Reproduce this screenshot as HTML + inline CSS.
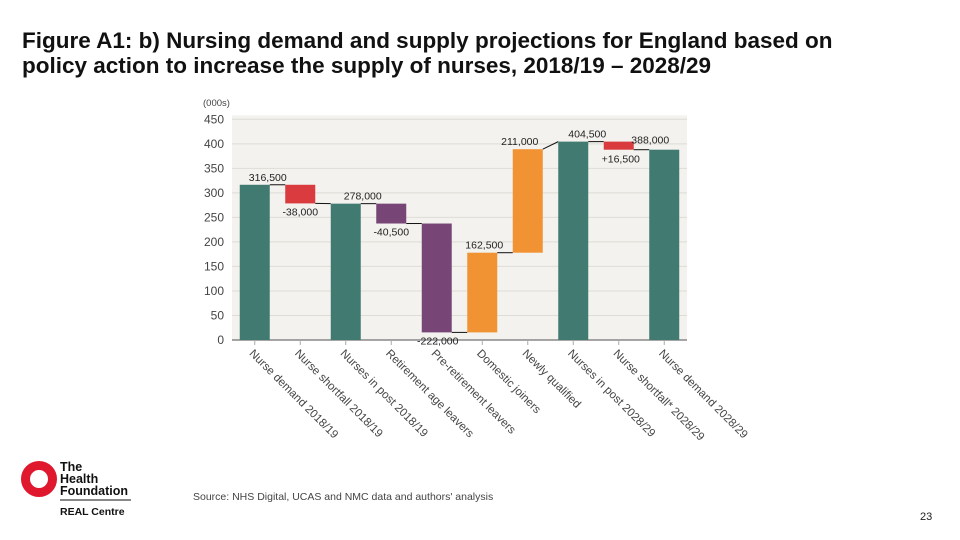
<!DOCTYPE html>
<html><head><meta charset="utf-8">
<style>
body{margin:0;width:960px;height:540px;background:#fff;font-family:"Liberation Sans",Arial,sans-serif;position:relative;overflow:hidden}
#title{position:absolute;left:22px;top:28px;font-size:22.5px;line-height:25px;color:#111;margin:0;font-weight:bold;white-space:nowrap}
#src{position:absolute;left:193px;top:491px;font-size:10.5px;color:#444}
#pg{position:absolute;left:920px;top:511px;font-size:11px;color:#222}
svg{position:absolute;left:0;top:0}
</style></head><body>
<h1 id="title">Figure A1: b) Nursing demand and supply projections for England based on<br>policy action to increase the supply of nurses, 2018/19 – 2028/29</h1>
<div id="src">Source: NHS Digital, UCAS and NMC data and authors' analysis</div>
<div id="pg">23</div>
<svg id="chart" width="960" height="540"></svg>
<svg width="140" height="80" style="left:15px;top:450px">
<circle cx="24" cy="29" r="13.5" fill="none" stroke="#e0182d" stroke-width="9"/>
<text x="45" y="21" font-size="12.5" font-weight="bold" fill="#111" font-family="Liberation Sans,sans-serif">The</text>
<text x="45" y="33" font-size="12.5" font-weight="bold" fill="#111" font-family="Liberation Sans,sans-serif">Health</text>
<text x="45" y="45" font-size="12.5" font-weight="bold" fill="#111" font-family="Liberation Sans,sans-serif">Foundation</text>
<line x1="45" y1="50" x2="116" y2="50" stroke="#111" stroke-width="1"/>
<text x="45" y="65" font-size="10.5" font-weight="bold" fill="#111" font-family="Liberation Sans,sans-serif">REAL Centre</text>
</svg>
<script>
const categories=["Nurse demand 2018/19","Nurse shortfall 2018/19","Nurses in post 2018/19","Retirement age leavers","Pre-retirement leavers","Domestic joiners","Newly qualified","Nurses in post 2028/29","Nurse shortfall* 2028/29","Nurse demand 2028/29"];
const barStart=[0,278.5,0,237.5,15.5,15.5,178,0,388,0];
const barEnd=[316.5,316.5,278,278,237.5,178,389,404.5,404.5,388];
const barLabels=["316,500","-38,000","278,000","-40,500","-222,000","162,500","211,000","404,500","+16,500","388,000"];
const barColors=["#417a70","#d93b3f","#417a70","#774677","#774677","#f19233","#f19233","#417a70","#d93b3f","#417a70"];
const yTicks=[0,50,100,150,200,250,300,350,400,450];
const NS="http://www.w3.org/2000/svg",svg=document.getElementById('chart');
const x0=232,x1=687,yb=340,yt=119.3,ymax=450;
const bw=(x1-x0)/categories.length;
const Y=v=>yb-(v/ymax)*(yb-yt);
const Xc=i=>x0+bw*(i+0.5);
function el(t,a){const e=document.createElementNS(NS,t);for(const k in a)e.setAttribute(k,a[k]);svg.appendChild(e);return e;}
const bg=el('rect',{x:x0,y:yt-4,width:x1-x0,height:yb-yt+4,fill:'#f3f2ee'});


yTicks.forEach(v=>{
 const g=el('line',{x1:x0,x2:x1,y1:Y(v),y2:Y(v),stroke:'#dddcd6','stroke-width':1});
 
 
 const t=el('text',{x:224,y:Y(v)+4,'font-size':12,fill:'#444','text-anchor':'end'});
 t.textContent=v;
 
 
});
const yt2=el('text',{x:203,y:106,'font-size':9.5,fill:'#444'});yt2.textContent='(000s)';


const ax=el('line',{x1:x0,x2:x1,y1:yb,y2:yb,stroke:'#888','stroke-width':1.5});


categories.forEach((c,i)=>{
 const cx=Xc(i),w=30;
 const r=el('rect',{x:cx-w/2,y:Y(barEnd[i]),width:w,height:Y(barStart[i])-Y(barEnd[i]),fill:barColors[i]});
 
 
 const tk=el('line',{x1:cx,x2:cx,y1:yb,y2:yb+5,stroke:'#aaa'});
 
 
 const lb=el('text',{x:0,y:0,'font-size':11.5,fill:'#444',transform:`translate(${cx-6},${yb+14}) rotate(45)`});
 lb.textContent=c;
 
 
 const top=barEnd[i],bot=barStart[i];
 let lx,ly,anch='middle';
 const dec=(i==1||i==3||i==4||i==8);
 if(dec){lx=cx;ly=Y(bot)+12;}else{lx=cx;ly=Y(top)-4;}
 if(i==0){lx=cx+13;}
 if(i==2){lx=cx+17;}
 if(i==5){lx=cx+2;}
 if(i==6){lx=cx-8;ly=Y(top)-4;}
 if(i==9){lx=cx-14;ly=Y(top)-6;}
 if(i==7){lx=cx+14;ly=Y(top)-4;}
 if(i==8){lx=cx+2;ly=Y(bot)+13;}
 if(i==4){lx=cx+1;ly=Y(bot)+12;}
 const vl=el('text',{x:lx,y:ly,'font-size':10.5,fill:'#222','text-anchor':anch});
 vl.textContent=barLabels[i];
 
 
 if(i<categories.length-1){
  const lvl=[barEnd[0],barStart[1],barEnd[2],barStart[3],barStart[4],barEnd[5],barEnd[6],barEnd[7],barStart[8]][i];
  const lvl2=[barEnd[1],barStart[2]==0?barEnd[2]:barStart[2],barEnd[3],barEnd[4],barStart[5],barStart[6],barEnd[7],barEnd[8],barEnd[9]][i];
  const cn=el('path',{d:`M${cx+15},${Y(lvl)} L${Xc(i+1)-15},${Y(lvl2)}`,stroke:'#111','stroke-width':1,fill:'none'});
  
  
 }
});
</script>
</body></html>
